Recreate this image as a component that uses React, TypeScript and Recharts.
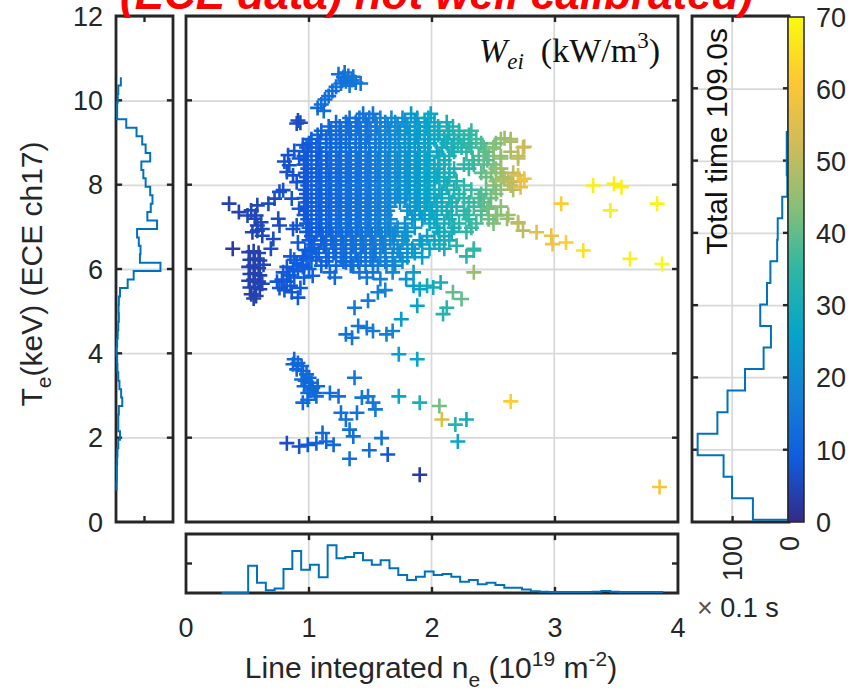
import React from 'react';
import { ScatterChart, Scatter, XAxis, YAxis, CartesianGrid, ReferenceArea, ReferenceLine } from 'recharts';

// ---------------- data ----------------
// main scatter, dense core: rows of constant Te (keV) with line-integrated ne and W_ei (kW/m^3)
const BLOB_TE = [9.68, 9.48, 9.28, 9.08, 8.88, 8.68, 8.48, 8.28, 8.08, 7.88, 7.68, 7.48, 7.28, 7.08, 6.88, 6.68, 6.48, 6.28, 6.08];
const BLOB_NE = [
  [1.44, 1.52, 1.83, 1.99],
  [1.22, 1.30, 1.38, 1.46, 1.54, 1.62, 1.70, 1.78, 1.86, 1.94, 2.02, 2.12],
  [1.10, 1.18, 1.26, 1.34, 1.42, 1.50, 1.58, 1.66, 1.74, 1.82, 1.90, 1.98, 2.06, 2.14, 2.22, 2.32],
  [1.02, 1.14, 1.22, 1.30, 1.38, 1.46, 1.54, 1.62, 1.70, 1.78, 1.86, 1.94, 2.02, 2.10, 2.18, 2.26, 2.36, 2.56, 2.64],
  [0.98, 1.06, 1.14, 1.22, 1.30, 1.38, 1.46, 1.54, 1.62, 1.70, 1.78, 1.86, 1.94, 2.08, 2.16, 2.24, 2.32, 2.42, 2.50, 2.74],
  [0.96, 1.02, 1.10, 1.18, 1.26, 1.34, 1.42, 1.50, 1.58, 1.66, 1.74, 1.82, 1.90, 1.98, 2.06, 2.14, 2.38, 2.46, 2.56, 2.70],
  [0.96, 1.06, 1.14, 1.22, 1.30, 1.38, 1.46, 1.54, 1.62, 1.70, 1.78, 1.86, 1.94, 2.02, 2.10, 2.26, 2.34, 2.42, 2.50],
  [0.97, 1.02, 1.10, 1.18, 1.26, 1.34, 1.42, 1.50, 1.58, 1.66, 1.74, 1.82, 1.90, 1.98, 2.06, 2.14, 2.40, 2.48, 2.56, 2.66],
  [0.96, 1.06, 1.14, 1.22, 1.30, 1.38, 1.46, 1.54, 1.62, 1.70, 1.78, 1.86, 1.94, 2.02, 2.10, 2.20, 2.52, 2.62, 2.72],
  [0.97, 1.02, 1.10, 1.18, 1.26, 1.34, 1.42, 1.50, 1.58, 1.66, 1.74, 1.82, 1.90, 1.98, 2.06, 2.18, 2.32, 2.44, 2.56, 2.66],
  [0.96, 1.06, 1.14, 1.22, 1.30, 1.38, 1.46, 1.54, 1.62, 1.70, 1.78, 1.86, 1.94, 2.02, 2.14, 2.26, 2.38, 2.48],
  [0.97, 1.02, 1.10, 1.18, 1.26, 1.34, 1.42, 1.50, 1.58, 1.66, 1.82, 1.90, 1.98, 2.08, 2.20, 2.34, 2.46, 2.56],
  [0.96, 1.06, 1.14, 1.22, 1.30, 1.38, 1.46, 1.54, 1.62, 1.86, 1.94, 2.04, 2.16, 2.28, 2.40, 2.52, 2.62],
  [0.98, 1.02, 1.10, 1.18, 1.26, 1.34, 1.42, 1.50, 1.58, 1.66, 1.78, 1.98, 2.10, 2.22, 2.36, 2.50, 2.70],
  [0.98, 1.06, 1.14, 1.22, 1.30, 1.38, 1.46, 1.54, 1.62, 1.70, 1.80, 2.06, 2.16, 2.28],
  [1.00, 1.10, 1.18, 1.26, 1.34, 1.42, 1.50, 1.58, 1.66, 1.76, 1.90, 2.02, 2.14],
  [1.02, 1.14, 1.22, 1.30, 1.38, 1.46, 1.54, 1.62, 1.72, 1.84, 1.98, 2.10, 2.34],
  [1.06, 1.16, 1.26, 1.34, 1.42, 1.50, 1.58, 1.68, 1.80, 1.92],
  [1.10, 1.22, 1.34, 1.46, 1.56, 1.70],
];
const BLOB_W = [
  [14, 15, 23, 27],
  [11, 12, 13, 14, 15, 17, 19, 21, 23, 25, 27, 30],
  [10, 11, 12, 13, 14, 15, 17, 19, 21, 23, 25, 27, 29, 31, 33, 36],
  [9, 10, 11, 12, 13, 14, 15, 17, 19, 21, 23, 25, 27, 29, 31, 33, 37, 46, 48],
  [8, 9, 10, 11, 12, 13, 14, 15, 17, 19, 21, 23, 25, 29, 31, 33, 36, 39, 43, 52],
  [8, 9, 10, 11, 12, 13, 14, 15, 17, 19, 21, 23, 25, 27, 29, 31, 38, 42, 45, 50],
  [8, 9, 10, 11, 12, 13, 14, 15, 17, 19, 21, 23, 25, 27, 29, 34, 36, 39, 42],
  [8, 9, 10, 11, 12, 13, 14, 15, 17, 19, 21, 23, 25, 27, 29, 31, 40, 43, 46, 50],
  [8, 9, 10, 11, 12, 13, 14, 15, 17, 19, 21, 23, 25, 27, 29, 32, 47, 52, 57],
  [8, 9, 10, 11, 12, 13, 14, 15, 17, 19, 21, 23, 25, 27, 29, 32, 36, 40, 45, 49],
  [8, 9, 10, 11, 12, 13, 14, 15, 17, 19, 21, 23, 25, 27, 31, 34, 38, 41],
  [8, 9, 10, 11, 12, 13, 14, 15, 17, 19, 23, 25, 27, 29, 33, 37, 41, 44],
  [8, 9, 10, 11, 12, 13, 14, 15, 17, 23, 25, 28, 31, 35, 39, 44, 47],
  [8, 9, 10, 11, 12, 13, 14, 15, 17, 19, 21, 27, 30, 33, 37, 43, 50],
  [8, 9, 10, 11, 12, 13, 14, 15, 17, 19, 22, 29, 31, 35],
  [9, 10, 11, 12, 13, 14, 15, 17, 19, 21, 25, 27, 31],
  [9, 10, 11, 12, 13, 14, 15, 17, 20, 23, 27, 30, 35],
  [9, 11, 12, 13, 14, 15, 17, 19, 22, 25],
  [10, 11, 13, 14, 16, 19],
];
// second, interleaved layer of the dense core
const BLOB2_TE = [9.58, 9.38, 9.18, 8.98, 8.78, 8.58, 8.38, 8.18, 7.98, 7.78, 7.58, 7.38, 7.18, 6.98, 6.78, 6.58, 6.38, 6.18];
const BLOB2_NE = [
  [1.33, 1.41, 1.49, 1.58, 1.67, 1.76, 1.88, 1.97],
  [1.16, 1.25, 1.32, 1.40, 1.47, 1.55, 1.64, 1.72, 1.80, 1.89, 1.96, 2.05, 2.17],
  [1.07, 1.17, 1.25, 1.33, 1.41, 1.48, 1.57, 1.65, 1.73, 1.81, 1.88, 1.97, 2.05, 2.13, 2.22, 2.30],
  [1.00, 1.09, 1.18, 1.26, 1.33, 1.42, 1.49, 1.58, 1.66, 1.73, 1.82, 1.89, 1.98, 2.12, 2.21, 2.30, 2.40, 2.52],
  [0.99, 1.08, 1.17, 1.25, 1.33, 1.41, 1.49, 1.57, 1.65, 1.74, 1.81, 1.89, 1.97, 2.04, 2.18, 2.28, 2.44, 2.64],
  [0.98, 1.07, 1.15, 1.24, 1.32, 1.40, 1.48, 1.56, 1.64, 1.72, 1.80, 1.88, 1.96, 2.10, 2.33, 2.45],
  [0.99, 1.09, 1.17, 1.25, 1.33, 1.41, 1.49, 1.57, 1.65, 1.73, 1.81, 1.89, 1.97, 2.05, 2.18, 2.30, 2.52],
  [0.98, 1.08, 1.16, 1.24, 1.32, 1.40, 1.48, 1.56, 1.64, 1.72, 1.80, 1.88, 1.96, 2.04, 2.14, 2.44, 2.58],
  [0.99, 1.09, 1.17, 1.25, 1.33, 1.41, 1.49, 1.57, 1.65, 1.73, 1.81, 1.89, 1.97, 2.12, 2.26, 2.50, 2.64],
  [0.98, 1.08, 1.16, 1.24, 1.32, 1.40, 1.48, 1.56, 1.64, 1.72, 1.80, 1.88, 1.96, 2.08, 2.22, 2.40, 2.52],
  [0.99, 1.09, 1.17, 1.25, 1.33, 1.41, 1.49, 1.57, 1.65, 1.74, 1.88, 1.96, 2.04, 2.16, 2.30, 2.42],
  [0.98, 1.08, 1.16, 1.24, 1.32, 1.40, 1.48, 1.56, 1.64, 1.80, 1.90, 2.00, 2.12, 2.26, 2.40],
  [0.99, 1.09, 1.17, 1.25, 1.33, 1.41, 1.49, 1.57, 1.66, 1.84, 1.92, 2.02, 2.14, 2.30, 2.46],
  [1.00, 1.08, 1.16, 1.24, 1.32, 1.40, 1.48, 1.56, 1.64, 1.72, 1.86, 2.04, 2.18, 2.32],
  [1.02, 1.11, 1.19, 1.27, 1.35, 1.43, 1.51, 1.59, 1.68, 1.78, 1.96, 2.10],
  [1.04, 1.12, 1.20, 1.28, 1.36, 1.44, 1.52, 1.60, 1.69, 1.80, 1.92, 2.06],
  [1.08, 1.20, 1.30, 1.38, 1.46, 1.54, 1.62, 1.74, 1.86],
  [1.14, 1.28, 1.40, 1.52, 1.62, 1.76],
];
const BLOB2_W = [
  [13, 14, 15, 17, 19, 21, 24, 27],
  [11, 12, 13, 14, 14, 16, 18, 20, 22, 25, 26, 29, 32],
  [10, 11, 12, 13, 14, 15, 17, 19, 21, 23, 24, 27, 29, 31, 33, 35],
  [9, 10, 11, 12, 13, 14, 15, 17, 19, 21, 23, 24, 27, 30, 33, 35, 38, 43],
  [8, 9, 11, 12, 13, 14, 15, 17, 19, 21, 22, 24, 27, 28, 31, 35, 40, 48],
  [8, 9, 10, 12, 13, 14, 15, 16, 18, 20, 22, 24, 26, 30, 36, 40],
  [8, 10, 11, 12, 13, 14, 15, 17, 19, 21, 22, 24, 27, 29, 32, 35, 44],
  [8, 9, 10, 12, 13, 14, 15, 16, 18, 20, 22, 24, 26, 28, 31, 41, 47],
  [8, 10, 11, 12, 13, 14, 15, 17, 19, 21, 22, 24, 27, 30, 34, 43, 49],
  [8, 9, 10, 12, 13, 14, 15, 16, 18, 20, 22, 24, 26, 29, 33, 38, 43],
  [8, 10, 11, 12, 13, 14, 15, 17, 19, 21, 24, 26, 28, 31, 35, 39],
  [8, 9, 10, 12, 13, 14, 15, 16, 18, 22, 24, 27, 30, 34, 38],
  [8, 10, 11, 12, 13, 14, 15, 17, 19, 23, 25, 27, 31, 35, 41],
  [9, 9, 10, 12, 13, 14, 15, 16, 18, 20, 23, 28, 31, 36],
  [9, 10, 11, 12, 13, 14, 15, 17, 19, 22, 26, 30],
  [9, 10, 11, 12, 13, 14, 15, 17, 19, 22, 25, 29],
  [10, 11, 12, 13, 14, 15, 17, 20, 24],
  [10, 12, 13, 15, 17, 21],
];

// remaining scattered points: [ne, Te, W]
const TOP_CLUSTER = [
  [1.24, 10.62, 14], [1.28, 10.55, 14], [1.32, 10.58, 15], [1.35, 10.48, 15], [1.30, 10.45, 14], [1.38, 10.42, 15],
  [1.42, 10.40, 15], [1.26, 10.40, 14], [1.22, 10.32, 14], [1.33, 10.35, 15], [1.19, 10.22, 13], [1.16, 10.10, 13],
  [1.13, 10.02, 13], [1.10, 9.90, 13], [1.12, 9.75, 13], [1.07, 9.82, 12], [1.29, 10.66, 14], [1.36, 10.56, 15],
  [0.91, 9.52, 6], [0.93, 9.47, 6], [0.90, 9.45, 6],
];
const LEFT_SCATTER = [
  [0.35, 7.55, 4], [0.43, 7.35, 4], [0.38, 6.48, 3], [0.50, 7.27, 5], [0.56, 7.19, 5], [0.58, 7.03, 5], [0.62, 6.95, 6],
  [0.58, 7.51, 5], [0.67, 7.55, 6], [0.72, 7.67, 6], [0.79, 7.87, 7], [0.83, 8.70, 7], [0.84, 8.46, 7], [0.87, 8.22, 7],
  [0.82, 8.30, 7], [0.90, 8.06, 7], [0.75, 7.19, 6], [0.76, 7.03, 6], [0.87, 6.95, 7], [0.69, 6.48, 6], [0.71, 6.71, 6],
  [0.95, 8.94, 8], [0.92, 8.62, 8], [0.76, 7.83, 7], [0.92, 7.43, 8], [0.90, 7.03, 8], [0.91, 6.63, 8], [0.53, 7.39, 5],
  [0.57, 7.27, 5], [0.61, 7.11, 5], [0.54, 6.87, 5], [0.62, 6.79, 5], [0.58, 6.91, 5], [0.86, 7.67, 7], [0.80, 8.55, 7],
  [0.88, 8.80, 8],
];
const DARK_COLUMN = [
  [0.51, 6.40, 4], [0.55, 6.42, 4], [0.59, 6.38, 4], [0.52, 6.22, 4], [0.56, 6.25, 4], [0.60, 6.20, 4], [0.51, 6.05, 4],
  [0.55, 6.08, 4], [0.59, 6.02, 4], [0.52, 5.88, 4], [0.56, 5.90, 4], [0.60, 5.85, 4], [0.51, 5.72, 4], [0.55, 5.75, 4],
  [0.59, 5.70, 4], [0.52, 5.56, 4], [0.56, 5.58, 4], [0.60, 5.52, 4], [0.53, 5.40, 4], [0.57, 5.36, 4], [0.55, 5.30, 4],
  [0.63, 6.10, 5], [0.62, 5.65, 5],
];
const DIAG_CLUSTER = [
  [0.76, 5.55, 8], [0.80, 5.50, 8], [0.78, 5.75, 8], [0.82, 5.70, 8], [0.85, 5.60, 8], [0.84, 5.85, 8], [0.88, 5.80, 9],
  [0.87, 6.00, 9], [0.91, 5.95, 9], [0.90, 6.15, 9], [0.94, 6.10, 9], [0.95, 6.30, 9], [0.98, 6.25, 9], [1.00, 6.42, 10],
  [1.02, 6.20, 10], [0.97, 6.45, 9], [0.86, 5.45, 8], [0.91, 5.32, 8], [0.93, 5.55, 9], [0.96, 5.80, 9], [1.00, 6.00, 10],
  [1.04, 6.50, 10], [0.82, 6.05, 8], [0.85, 6.30, 8], [0.74, 5.70, 8], [0.79, 5.92, 8], [0.88, 6.22, 9], [0.95, 6.05, 9],
];
const MID_SCATTER = [
  [1.17, 5.92, 12], [1.21, 5.80, 12], [1.03, 5.84, 10], [1.30, 6.16, 12], [1.36, 6.08, 13], [1.41, 5.92, 14], [1.47, 5.80, 15],
  [1.52, 5.92, 15], [1.58, 5.76, 17], [1.63, 6.08, 17], [1.68, 5.92, 19], [1.79, 5.76, 22], [1.85, 5.92, 24], [1.85, 5.60, 24],
  [1.90, 5.52, 26], [1.96, 5.60, 28], [2.01, 5.56, 29], [2.07, 5.68, 30], [1.88, 5.13, 26], [2.17, 5.45, 40], [2.24, 5.29, 40],
  [2.12, 5.08, 34], [2.09, 4.93, 33], [2.34, 5.92, 46], [1.48, 5.25, 16], [1.56, 5.45, 17], [1.62, 5.50, 18], [1.37, 5.08, 15],
  [1.75, 4.81, 24], [1.30, 4.45, 14], [1.35, 4.37, 14], [1.40, 4.65, 15], [1.47, 4.60, 15], [1.52, 4.53, 16], [1.63, 4.45, 17],
  [1.68, 4.53, 18], [1.73, 3.98, 25], [1.88, 3.86, 27],
];
const LOW_CLUSTER = [
  [0.88, 3.86, 11], [0.91, 3.77, 11], [0.94, 3.70, 12], [0.95, 3.58, 12], [0.98, 3.50, 12], [1.00, 3.42, 12], [1.02, 3.30, 12],
  [1.03, 3.18, 12], [1.05, 3.06, 12], [0.99, 3.06, 12], [0.96, 3.22, 12], [0.94, 3.38, 12], [1.06, 2.98, 12], [1.07, 3.22, 12],
  [0.90, 3.62, 11], [0.95, 2.83, 12], [0.99, 2.90, 12], [0.87, 3.74, 11], [0.97, 3.35, 12], [1.01, 3.12, 12],
];
const LOW_SCATTER = [
  [1.17, 3.06, 13], [1.24, 2.98, 13], [1.37, 3.42, 15], [1.43, 2.95, 15], [1.48, 2.98, 16], [1.52, 2.83, 16], [1.54, 2.67, 16],
  [1.26, 2.59, 13], [1.30, 2.43, 14], [1.39, 2.59, 14], [1.33, 2.19, 14], [1.36, 2.03, 14], [1.11, 2.11, 12], [1.14, 1.91, 11],
  [1.20, 1.83, 11], [0.82, 1.87, 6], [0.92, 1.79, 7], [0.99, 1.83, 8], [1.06, 1.87, 10], [1.33, 1.50, 13], [1.49, 1.70, 13],
  [1.59, 1.99, 14], [1.64, 1.60, 8], [1.90, 1.12, 3], [1.73, 2.98, 26], [1.90, 2.83, 32], [2.06, 2.75, 42], [2.08, 2.43, 55],
  [2.19, 2.31, 33], [2.28, 2.43, 30], [2.21, 1.91, 27], [2.64, 2.86, 62], [3.85, 0.83, 60],
];
const RIGHT_ARMS = [
  [2.34, 6.44, 35], [2.20, 6.55, 33], [2.28, 6.30, 34],
  [2.45, 7.43, 42], [2.53, 7.27, 44], [2.61, 7.19, 46], [2.70, 7.11, 50], [2.74, 6.91, 50], [2.85, 6.87, 56], [2.97, 6.79, 58],
  [2.98, 6.59, 59], [3.09, 6.63, 62], [3.23, 6.44, 66],
  [2.59, 8.14, 48], [2.64, 8.06, 50], [2.70, 8.22, 55], [2.75, 8.14, 58], [2.72, 7.94, 56], [2.56, 8.38, 46],
  [2.59, 9.10, 46], [2.64, 9.02, 48], [2.75, 8.90, 52], [2.70, 8.62, 50], [2.56, 8.62, 45], [2.50, 8.86, 44],
  [3.05, 7.55, 62], [3.31, 7.98, 68], [3.48, 8.02, 68], [3.54, 7.94, 68], [3.45, 7.39, 68], [3.83, 7.55, 69], [3.61, 6.24, 68],
  [3.87, 6.12, 70],
];

// histograms
const LEFT_TE_START = 0.75;
const LEFT_TE_BIN = 0.2;
const LEFT_COUNTS = [2, 3, 3, 4, 5, 8, 14, 8, 8, 10, 22, 18, 12, 8, 5, 4, 2, 4, 6, 8, 10, 9, 10, 14, 41, 62, 156, 84, 86, 80,
  74, 144, 110, 122, 128, 120, 104, 96, 89, 120, 104, 92, 72, 36, 4, 4, 6, 8, 17];
const BOTTOM_NE_START = 0.29;
const BOTTOM_NE_BIN = 0.0718;
const BOTTOM_COUNTS = [0, 0, 0, 92, 35, 9, 15, 81, 142, 79, 96, 53, 162, 118, 122, 136, 111, 96, 111, 84, 61, 44, 55, 73, 61,
  64, 55, 38, 44, 30, 35, 27, 18, 18, 12, 6, 4, 3, 3, 3, 3, 3, 4, 7, 4, 3, 3, 3, 3, 3];
const RIGHT_W_START = 0.3;
const RIGHT_W_BIN = 2.98;
const RIGHT_COUNTS = [64, 101, 116, 162, 127, 109, 78, 45, 32, 51, 39, 33, 21, 20, 12, 3, 4, 4, 1, 1];

const NE_TICKS = [0, 1, 2, 3, 4];
const TE_TICKS = [0, 2, 4, 6, 8, 10, 12];
const W_TICKS = [0, 10, 20, 30, 40, 50, 60, 70];
const TIME_TICKS = [0, 100];
const HIST_TICKS = [0, 100, 200];

// ---------------- styling ----------------
const FONT = '"Liberation Sans", Arial, Helvetica, sans-serif';
const SERIF = '"Liberation Serif", "Times New Roman", serif';
const FRAME = '#262626';
const GRID = '#d9d9d9';
const HIST = '#0072bd';
const TICK_FS = 27;
const LABEL_FS = 30;
const PW = 859;
const PH = 692;
const TICK_LEN = 6;
const FRAME_W = 2.8;

const PARULA = ['#352a87', '#0f5cdd', '#1481d6', '#06a4ca', '#2eb7a4', '#87bf77', '#d1bb59', '#fec832', '#f9fb0e'];
function hex(c: string) {
  return [parseInt(c.slice(1, 3), 16), parseInt(c.slice(3, 5), 16), parseInt(c.slice(5, 7), 16)];
}
function parula(t: number) {
  const tt = Math.max(0, Math.min(1, t));
  const s = tt * (PARULA.length - 1);
  const i = Math.min(PARULA.length - 2, Math.floor(s));
  const f = s - i;
  const a = hex(PARULA[i]);
  const b = hex(PARULA[i + 1]);
  const m = a.map((v, k) => Math.round(v + (b[k] - v) * f));
  return `rgb(${m[0]},${m[1]},${m[2]})`;
}

// ---------------- derived tables ----------------
const scatterData: { x: number; y: number; w: number }[] = [];
BLOB_TE.forEach((te, r) => {
  BLOB_NE[r].forEach((ne, k) => scatterData.push({ x: ne, y: te, w: BLOB_W[r][k] }));
});
BLOB2_TE.forEach((te, r) => {
  BLOB2_NE[r].forEach((ne, k) => scatterData.push({ x: ne, y: te, w: BLOB2_W[r][k] }));
});
[TOP_CLUSTER, LEFT_SCATTER, DARK_COLUMN, DIAG_CLUSTER, MID_SCATTER, LOW_CLUSTER, LOW_SCATTER, RIGHT_ARMS].forEach((arr) =>
  arr.forEach(([ne, te, w]) => scatterData.push({ x: ne, y: te, w }))
);

const leftStairs: { x: number; y: number }[] = [];
LEFT_COUNTS.forEach((c, i) => {
  leftStairs.push({ x: c, y: LEFT_TE_START + i * LEFT_TE_BIN });
  leftStairs.push({ x: c, y: LEFT_TE_START + (i + 1) * LEFT_TE_BIN });
});
const bottomStairs: { x: number; y: number }[] = [];
BOTTOM_COUNTS.forEach((c, i) => {
  bottomStairs.push({ x: BOTTOM_NE_START + i * BOTTOM_NE_BIN, y: c });
  bottomStairs.push({ x: BOTTOM_NE_START + (i + 1) * BOTTOM_NE_BIN, y: c });
});
const rightStairs: { x: number; y: number }[] = [{ x: 0, y: RIGHT_W_START }];
RIGHT_COUNTS.forEach((c, i) => {
  rightStairs.push({ x: c, y: RIGHT_W_START + i * RIGHT_W_BIN });
  rightStairs.push({ x: c, y: RIGHT_W_START + (i + 1) * RIGHT_W_BIN });
});
const colorbarData = W_TICKS.map((w) => ({ x: 0.5, y: w }));

// ---------------- panel geometry ----------------
type Panel = {
  l: number; r: number; t: number; b: number;
  xDomain: [number, number]; xTicks: number[]; yDomain: [number, number]; yTicks: number[];
  reversed?: boolean; horizontal: boolean; vertical: boolean;
};
const MAIN: Panel = { l: 186, r: 677, t: 17, b: 522, xDomain: [0, 4], xTicks: NE_TICKS, yDomain: [0, 12], yTicks: TE_TICKS, horizontal: true, vertical: true };
const LEFT: Panel = { l: 116, r: 172, t: 17, b: 522, xDomain: [0, 200], xTicks: HIST_TICKS, yDomain: [0, 12], yTicks: TE_TICKS, horizontal: true, vertical: false };
const BOTTOM: Panel = { l: 186, r: 677, t: 535, b: 593, xDomain: [0, 4], xTicks: NE_TICKS, yDomain: [0, 200], yTicks: HIST_TICKS, horizontal: false, vertical: true };
const RIGHT: Panel = { l: 692, r: 788, t: 17, b: 522, xDomain: [0, 172], xTicks: TIME_TICKS, yDomain: [0, 70], yTicks: W_TICKS, reversed: true, horizontal: true, vertical: true };

// plot area [l, r] x [t, b] in page pixels; every axis is 1px thick
function margins(p: Panel) {
  return { left: p.l - 1, right: PW - p.r - 1, top: p.t - 1, bottom: PH - p.b - 1 };
}

// box + inward ticks on all four sides (MATLAB "box on")
function frameAndTicks(p: Panel) {
  const [x0, x1] = p.xDomain;
  const [y0, y1] = p.yDomain;
  const dx = (TICK_LEN / (p.r - p.l)) * (x1 - x0);
  const dy = (TICK_LEN / (p.b - p.t)) * (y1 - y0);
  const xl = p.reversed ? x1 : x0;
  const xr = p.reversed ? x0 : x1;
  const dir = p.reversed ? -1 : 1;
  const els: React.ReactNode[] = [];
  p.xTicks.filter((v) => v > x0 && v < x1).forEach((v, i) => {
    els.push(<ReferenceLine key={`xb${i}`} segment={[{ x: v, y: y0 }, { x: v, y: y0 + dy }]} stroke={FRAME} strokeWidth={2.4} ifOverflow="visible" />);
    els.push(<ReferenceLine key={`xt${i}`} segment={[{ x: v, y: y1 }, { x: v, y: y1 - dy }]} stroke={FRAME} strokeWidth={2.4} ifOverflow="visible" />);
  });
  p.yTicks.filter((v) => v > y0 && v < y1).forEach((v, i) => {
    els.push(<ReferenceLine key={`yl${i}`} segment={[{ x: xl, y: v }, { x: xl + dir * dx, y: v }]} stroke={FRAME} strokeWidth={2.4} ifOverflow="visible" />);
    els.push(<ReferenceLine key={`yr${i}`} segment={[{ x: xr, y: v }, { x: xr - dir * dx, y: v }]} stroke={FRAME} strokeWidth={2.4} ifOverflow="visible" />);
  });
  els.push(
    <ReferenceArea key="box" x1={x0} x2={x1} y1={y0} y2={y1} fill="none" fillOpacity={0} stroke={FRAME} strokeWidth={FRAME_W}
      strokeOpacity={1} ifOverflow="visible" />
  );
  return els;
}

// ---------------- renderers ----------------
function labelTick(label: (v: number, x: number, y: number) => React.ReactNode) {
  return (props: any) => <g>{label(props.payload.value, props.x, props.y)}</g>;
}

const Plus = (props: any) => {
  const { cx, cy, payload } = props;
  if (cx == null || cy == null) return <g />;
  const h = 7.5;
  return (
    <path
      d={`M${cx - h},${cy}H${cx + h}M${cx},${cy - h}V${cy + h}`}
      stroke={parula(payload.w / 70)}
      strokeWidth={2.6}
      fill="none"
    />
  );
};
const NoDot = () => <g />;

const common = { tickSize: 0, tickMargin: 0, tickLine: false, interval: 0 as const, axisLine: false };
const abs: React.CSSProperties = { position: 'absolute', left: 0, top: 0 };

function GridLayer({ p }: { p: Panel }) {
  return (
    <div style={abs}>
      <ScatterChart width={PW} height={PH} margin={{ left: p.l, right: PW - p.r, top: p.t, bottom: PH - p.b }}>
        <CartesianGrid stroke={GRID} strokeWidth={1.8} horizontal={p.horizontal} vertical={p.vertical} />
        <XAxis dataKey="x" type="number" domain={p.xDomain} ticks={p.xTicks} reversed={p.reversed} hide />
        <YAxis dataKey="y" type="number" domain={p.yDomain} ticks={p.yTicks} hide />
        <Scatter data={[{ x: p.xDomain[0], y: p.yDomain[0] }]} shape={NoDot} isAnimationActive={false} />
      </ScatterChart>
    </div>
  );
}

type LabelFn = (v: number, x: number, y: number) => React.ReactNode;
function PanelChart({ p, data, line, leftLabel, bottomLabel, children }: {
  p: Panel; data: any[]; line: boolean; leftLabel?: LabelFn; bottomLabel?: LabelFn; children?: React.ReactNode;
}) {
  return (
    <div style={abs}>
      <ScatterChart width={PW} height={PH} margin={margins(p)}>
        <XAxis xAxisId={0} dataKey="x" type="number" domain={p.xDomain} ticks={p.xTicks} reversed={p.reversed} height={1}
          {...common} tick={bottomLabel ? labelTick(bottomLabel) : false} />
        <YAxis yAxisId={0} dataKey="y" type="number" domain={p.yDomain} ticks={p.yTicks} width={1}
          {...common} tick={leftLabel ? labelTick(leftLabel) : false} />
        {line ? (
          <Scatter xAxisId={0} yAxisId={0} data={data} shape={NoDot} line={{ stroke: HIST, strokeWidth: 2 }}
            isAnimationActive={false} />
        ) : (
          <Scatter xAxisId={0} yAxisId={0} data={data} shape={Plus} isAnimationActive={false} />
        )}
        {frameAndTicks(p)}
        {children}
      </ScatterChart>
    </div>
  );
}

export default function App() {
  return (
    <div style={{ position: 'absolute', left: 0, top: 0, width: PW, height: PH, background: '#fff', overflow: 'hidden' }}>
      {[MAIN, LEFT, BOTTOM, RIGHT].map((p, i) => <GridLayer key={i} p={p} />)}

      <PanelChart p={MAIN} data={scatterData} line={false}>
        <text x={660} y={62} textAnchor="end" fontFamily={SERIF} fontSize={34} fill="#111">
          <tspan fontStyle="italic">W</tspan>
          <tspan fontStyle="italic" fontSize={23} dy={7}>ei</tspan>
          <tspan dy={-7}>{'\u2002(kW/m'}</tspan>
          <tspan fontSize={23} dy={-14}>3</tspan>
          <tspan dy={14}>)</tspan>
        </text>
      </PanelChart>

      <PanelChart p={LEFT} data={leftStairs} line
        leftLabel={(v, x, y) => (
          <text x={x - 13} y={y} dy="0.36em" textAnchor="end" fontFamily={FONT} fontSize={TICK_FS} fill={FRAME}>{v}</text>
        )}>
        <text transform="rotate(-90)" x={-274} y={42} textAnchor="middle" fontFamily={FONT} fontSize={LABEL_FS} fill={FRAME}>
          T<tspan fontSize={21} dy={9}>e</tspan><tspan dy={-9}>(keV) (ECE ch17)</tspan>
        </text>
      </PanelChart>

      <PanelChart p={BOTTOM} data={bottomStairs} line
        bottomLabel={(v, x, y) => (
          <text x={x} y={y + 44} textAnchor="middle" fontFamily={FONT} fontSize={TICK_FS} fill={FRAME}>{v}</text>
        )}>
        <text x={431} y={678} textAnchor="middle" fontFamily={FONT} fontSize={LABEL_FS} fill={FRAME}>
          Line integrated n<tspan fontSize={21} dy={9}>e</tspan>
          <tspan dy={-9}>{' (10'}</tspan>
          <tspan fontSize={21} dy={-12}>19</tspan>
          <tspan dy={12}>{' m'}</tspan>
          <tspan fontSize={21} dy={-12}>-2</tspan>
          <tspan dy={12}>)</tspan>
        </text>
      </PanelChart>

      <PanelChart p={RIGHT} data={rightStairs} line
        bottomLabel={(v, x, y) => (
          <text transform={`rotate(-90 ${x} ${y + 14})`} x={x} y={y + 14} dy="0.36em" textAnchor="end"
            fontFamily={FONT} fontSize={TICK_FS} fill={FRAME}>{v}</text>
        )}>
        <text transform="rotate(-90)" x={-28} y={727} textAnchor="end" fontFamily={FONT} fontSize={LABEL_FS} fill="#111">
          Total time 109.0s
        </text>
        <text x={697} y={617} fontFamily={FONT} fontSize={TICK_FS} fill={FRAME}>
          <tspan fill="#555">×</tspan> 0.1 s
        </text>
      </PanelChart>

      {/* colorbar */}
      <div style={abs}>
        <ScatterChart width={PW} height={PH} margin={{ left: 788, right: PW - 804 - 1, top: 17, bottom: PH - 522 - 1 }}>
          <defs>
            <linearGradient id="parulaGrad" x1="0" y1="1" x2="0" y2="0">
              {PARULA.map((c, i) => (
                <stop key={i} offset={`${(i / (PARULA.length - 1)) * 100}%`} stopColor={c} />
              ))}
            </linearGradient>
          </defs>
          <XAxis xAxisId={0} dataKey="x" type="number" domain={[0, 1]} height={1} tick={false} axisLine={false} tickLine={false} />
          <YAxis yAxisId={0} dataKey="y" orientation="right" type="number" domain={[0, 70]} ticks={W_TICKS} width={1} {...common}
            tick={labelTick((v, x, y) => (
              <text x={x + 12} y={y} dy="0.36em" textAnchor="start" fontFamily={FONT} fontSize={TICK_FS} fill={FRAME}>{v}</text>
            ))} />
          <ReferenceArea xAxisId={0} yAxisId={0} x1={0} x2={1} y1={0} y2={70} fill="url(#parulaGrad)" fillOpacity={1}
            stroke={FRAME} strokeWidth={1.5} ifOverflow="visible" />
          <Scatter xAxisId={0} yAxisId={0} data={colorbarData} shape={NoDot} isAnimationActive={false} />
        </ScatterChart>
      </div>

      {/* cropped title */}
      <svg width={PW} height={PH} style={{ ...abs, pointerEvents: 'none' }}>
        <text x={120} y={9} fill="#ff0000" fontFamily={FONT} fontWeight="bold" fontStyle="italic" fontSize={44}>
          (ECE data) not well calibrated)
        </text>
      </svg>
    </div>
  );
}
